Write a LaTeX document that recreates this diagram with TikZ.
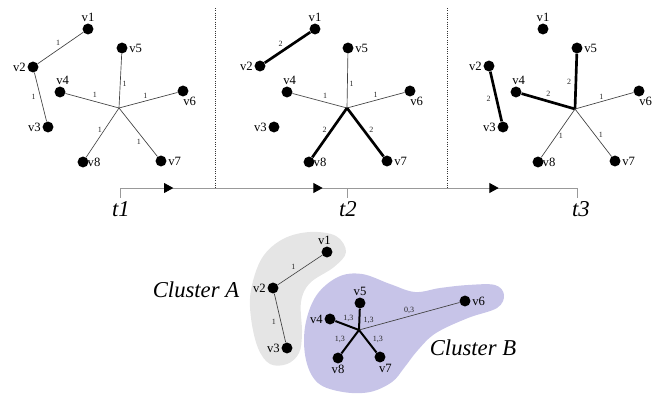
\documentclass[tikz,border=0pt]{standalone}
\usepackage{fontspec}
\setmainfont{Liberation Serif}
\usepackage{tikz}
\usetikzlibrary{arrows.meta,decorations.markings}
\definecolor{clusterA}{RGB}{229,229,229}
\definecolor{clusterB}{RGB}{199,196,232}
\tikzset{
  vtx/.style={circle, fill=black, inner sep=0pt, minimum size=8.2pt},
  every label/.style={font=\fontsize{9.5}{9.5}\selectfont, inner sep=1pt},
  lite/.style={draw=black!75, line width=0.5pt},
  heavy/.style={draw=black, line width=2pt},
  wt/.style={font=\fontsize{6}{6}\selectfont, inner sep=1.5pt, text=black!85},
  tline/.style={draw=gray!80, line width=0.7pt},
  tname/.style={font=\fontsize{17}{17}\selectfont\itshape},
  divider/.style={densely dotted, line width=0.7pt, black!80},
}

\begin{document}
\begin{tikzpicture}[x=0.75pt,y=-0.75pt]
  \useasboundingbox (0,0) rectangle (653,393);

  % cluster areas
  \fill[clusterA] plot[smooth cycle, tension=0.6] coordinates {
    (310,232) (336,236) (346,252) (334,267) (310,283) (301,302) (302,333)
    (299,353) (287,364) (270,364) (258,348) (251,318) (251,290) (262,258) (283,239)};
  \fill[clusterB] plot[smooth cycle, tension=0.6] coordinates {
    (338,277) (362,274) (390,284) (415,292) (440,288) (468,285) (495,285)
    (504,295) (497,308) (468,318) (436,333) (418,350) (404,368) (392,382)
    (370,392) (343,392) (318,383) (306,360) (305,327) (316,296)};

  % dividers and time line
  \draw[divider] (215,8) -- (215,188);
  \draw[divider] (447,8) -- (447,188);
  \coordinate (t1) at (120,188);
  \coordinate (t2) at (347,188);
  \coordinate (t3) at (577,188);
  \draw[tline, postaction={decorate}, decoration={markings,
      mark=at position 40pt with {\arrow[black]{Triangle[length=7pt,width=7.5pt]}},
      mark=at position 152pt with {\arrow[black]{Triangle[length=7pt,width=7.5pt]}},
      mark=at position 284pt with {\arrow[black]{Triangle[length=7pt,width=7.5pt]}}}]
    (t1) -- (t3);
  \draw[tline] (t1) -- ++(0,10);
  \draw[tline] (t2) -- ++(0,10);
  \draw[tline] (t3) -- ++(0,10);
  \node[tname] (lt1) at (121,209) {t1};
  \node[tname] (lt2) at (348,209) {t2};
  \node[tname] (lt3) at (581,209) {t3};

  % graph at t1
  \coordinate (ha) at (119,108);
  \node[vtx, label=above:v1] (a1) at (88,29) {};
  \node[vtx, label=left:v2] (a2) at (33,67) {};
  \node[vtx, label=left:v3] (a3) at (48,127) {};
  \node[vtx, label={[xshift=2pt]above:v4}] (a4) at (60,92) {};
  \node[vtx, label=right:v5] (a5) at (122,48) {};
  \node[vtx, label={[xshift=-4pt]below right:v6}] (a6) at (183,91) {};
  \node[vtx, label=right:v7] (a7) at (161,161) {};
  \node[vtx, label={[label distance=-2pt]right:v8}] (a8) at (83,162) {};
  \draw[lite] (a2) -- node[wt, pos=.45, above=1pt] {1} (a1);
  \draw[lite] (a2) -- node[wt, left=2pt] {1} (a3);
  \draw[lite] (ha) -- node[wt, pos=.45, above=1pt] {1} (a4);
  \draw[lite] (ha) -- node[wt, pos=.45, right] {1} (a5);
  \draw[lite] (ha) -- node[wt, pos=.45, above] {1} (a6);
  \draw[lite] (ha) -- node[wt, pos=.7, left=2pt] {1} (a7);
  \draw[lite] (ha) -- node[wt, pos=.45, left] {1} (a8);

  % graph at t2
  \coordinate (hb) at (347,108);
  \node[vtx, label=above:v1] (b1) at (315,29) {};
  \node[vtx, label=left:v2] (b2) at (260,66) {};
  \node[vtx, label=left:v3] (b3) at (274,127) {};
  \node[vtx, label={[xshift=2pt]above:v4}] (b4) at (287,92) {};
  \node[vtx, label=right:v5] (b5) at (348,48) {};
  \node[vtx, label={[xshift=-4pt]below right:v6}] (b6) at (410,91) {};
  \node[vtx, label=right:v7] (b7) at (387,161) {};
  \node[vtx, label={[label distance=-2pt]right:v8}] (b8) at (309,162) {};
  \draw[heavy] (b2) -- node[wt, pos=.35, above=2pt] {2} (b1);
  \draw[lite] (hb) -- node[wt, pos=.4, above=1pt] {1} (b4);
  \draw[lite] (hb) -- node[wt, pos=.45, right] {1} (b5);
  \draw[lite] (hb) -- node[wt, pos=.5, above] {1} (b6);
  \draw[heavy] (hb) -- node[wt, pos=.45, left=1pt] {2} (b8);
  \draw[heavy] (hb) -- node[wt, pos=.45, right=2pt] {2} (b7);

  % graph at t3
  \coordinate (hc) at (575,109);
  \node[vtx, label=above:v1] (c1) at (543,29) {};
  \node[vtx, label=left:v2] (c2) at (489,66) {};
  \node[vtx, label=left:v3] (c3) at (503,127) {};
  \node[vtx, label={[xshift=2pt]above:v4}] (c4) at (516,92) {};
  \node[vtx, label=right:v5] (c5) at (577,48) {};
  \node[vtx, label={[xshift=-4pt]below right:v6}] (c6) at (639,91) {};
  \node[vtx, label=right:v7] (c7) at (615,161) {};
  \node[vtx, label={[label distance=-2pt]right:v8}] (c8) at (538,162) {};
  \draw[heavy] (c2) -- node[wt, pos=.55, left=2pt] {2} (c3);
  \draw[heavy] (hc) -- node[wt, pos=.5, above=1pt] {2} (c4);
  \draw[heavy] (hc) -- node[wt, pos=.5, left=1pt] {2} (c5);
  \draw[lite] (hc) -- node[wt, pos=.45, above] {1} (c6);
  \draw[lite] (hc) -- node[wt, pos=.55, right=1pt] {1} (c7);
  \draw[lite] (hc) -- node[wt, pos=.55, right] {1} (c8);

  % clustered graph
  \coordinate (hm) at (359,330);
  \node[vtx, label={[xshift=-2pt]above:v1}] (m1) at (327,252) {};
  \node[vtx, label=left:v2] (m2) at (273,288) {};
  \node[vtx, label=left:v3] (m3) at (287,348) {};
  \node[vtx, label=left:v4] (m4) at (330,319) {};
  \node[vtx, label=above:v5] (m5) at (360,303) {};
  \node[vtx, label=right:v6] (m6) at (465,301) {};
  \node[vtx, label={[xshift=4pt]below:v7}] (m7) at (380,357) {};
  \node[vtx, label=below:v8] (m8) at (338,358) {};
  \draw[lite] (m2) -- node[wt, pos=.35, above=2pt] {1} (m1);
  \draw[lite] (m2) -- node[wt, pos=.57, left=2pt] {1} (m3);
  \draw[heavy, line width=1.5pt] (hm) -- node[wt, pos=.45, above=1pt] {1,3} (m4);
  \draw[heavy, line width=1.5pt] (hm) -- node[wt, pos=.45, right=1pt] {1,3} (m5);
  \draw[lite] (hm) -- node[wt, pos=.5, above] {0,3} (m6);
  \draw[heavy, line width=1.5pt] (hm) -- node[wt, pos=.4, left=3pt] {1,3} (m8);
  \draw[heavy, line width=1.5pt] (hm) -- node[wt, pos=.4, right=3pt] {1,3} (m7);
  \node[tname] (na) at (196,290) {Cluster A};
  \node[tname] (nb) at (473,348) {Cluster B};
\end{tikzpicture}
\end{document}
